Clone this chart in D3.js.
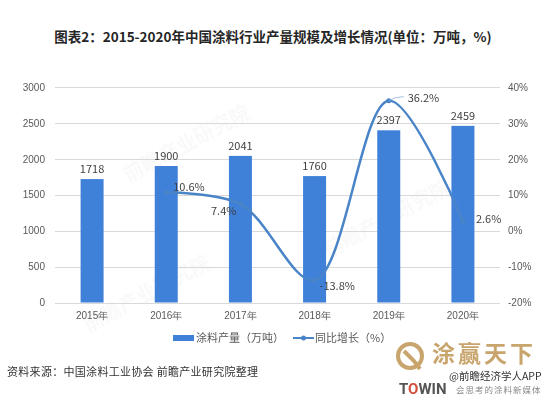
<!doctype html>
<html lang="zh">
  <head>
    <meta charset="UTF-8" />
    <title>2015-2020年中国涂料行业产量规模及增长情况</title>
    <script src="https://unpkg.com/d3@7.9.0/dist/d3.min.js"></script>
    <style>
      body {
        margin: 0;
        background: #fff;
        font-family: 'Noto Sans CJK SC', 'Noto Sans', sans-serif;
      }
      .title {
        font-size: 13.5px;
        font-weight: bold;
        fill: #262626;
        text-anchor: middle;
      }
      .tick-label {
        font-size: 10px;
        fill: #595959;
      }
      .value-label {
        font-size: 11px;
        fill: #404040;
      }
      .legend text {
        font-size: 11px;
        fill: #595959;
      }
      .source {
        font-size: 11px;
        fill: #333;
        letter-spacing: 0.3px;
      }
    </style>
  </head>
  <body>
    <svg width="549" height="397"></svg>

    <script>
      // data
      const years = ['2015年', '2016年', '2017年', '2018年', '2019年', '2020年'];
      const output = [1718, 1900, 2041, 1760, 2397, 2459];
      const growth = [null, 10.6, 7.4, -13.8, 36.2, 2.6];
      const leftTicks = [0, 500, 1000, 1500, 2000, 2500, 3000];
      const rightTicks = [-20, -10, 0, 10, 20, 30, 40];

      const barColor = '#3f80d9';
      const lineColor = '#4a84c8';

      const svg = d3.select('svg');
      const plot = { left: 55, right: 500, top: 87, bottom: 302.5 };

      const x = d3
        .scaleBand()
        .domain(years)
        .range([plot.left, plot.right])
        .paddingInner(0.69)
        .paddingOuter(0.345);

      const yL = d3
        .scaleLinear()
        .domain([0, 3000])
        .range([plot.bottom, plot.top]);

      const yR = d3
        .scaleLinear()
        .domain([-20, 40])
        .range([plot.bottom, plot.top]);

      // 標題
      svg
        .append('text')
        .attr('class', 'title')
        .attr('x', 273)
        .attr('y', 42)
        .text('图表2：2015-2020年中国涂料行业产量规模及增长情况(单位：万吨，%)');

      // 淡色水印
      const wm = svg.append('g').attr('fill', '#000').attr('opacity', 0.025);
      [
        [190, 150],
        [390, 225],
        [150, 300],
      ].forEach(([wx, wy]) => {
        wm.append('text')
          .attr('transform', `translate(${wx},${wy}) rotate(-28)`)
          .attr('text-anchor', 'middle')
          .style('font-size', '20px')
          .style('font-weight', 'bold')
          .text('前瞻产业研究院');
      });

      // 網格線
      svg
        .append('g')
        .selectAll('line')
        .data(leftTicks)
        .join('line')
        .attr('x1', plot.left)
        .attr('x2', plot.right)
        .attr('y1', (d) => Math.round(yL(d)) + 0.5)
        .attr('y2', (d) => Math.round(yL(d)) + 0.5)
        .attr('stroke', '#d9d9d9')
        .attr('stroke-width', 1);

      // 左軸
      const axL = svg
        .append('g')
        .attr('transform', `translate(${plot.left},0)`)
        .call(
          d3
            .axisLeft(yL)
            .tickValues(leftTicks)
            .tickSize(0)
            .tickPadding(10)
            .tickFormat(d3.format('d')),
        );
      axL.select('.domain').remove();
      axL.selectAll('text').attr('class', 'tick-label').attr('font-family', null).attr('font-size', null);

      // 右軸
      const axR = svg
        .append('g')
        .attr('transform', `translate(${plot.right},0)`)
        .call(
          d3
            .axisRight(yR)
            .tickValues(rightTicks)
            .tickSize(0)
            .tickPadding(8)
            .tickFormat((d) => d + '%'),
        );
      axR.select('.domain').remove();
      axR.selectAll('text').attr('class', 'tick-label').attr('font-family', null).attr('font-size', null);

      // X 軸
      const axX = svg
        .append('g')
        .attr('transform', `translate(0,${plot.bottom})`)
        .call(d3.axisBottom(x).tickSize(0).tickPadding(9));
      axX.select('.domain').remove();
      axX.selectAll('text').attr('class', 'tick-label').attr('font-family', null).attr('font-size', null);

      // 柱
      svg
        .append('g')
        .selectAll('rect')
        .data(output)
        .join('rect')
        .attr('x', (d, i) => x(years[i]))
        .attr('width', x.bandwidth())
        .attr('y', (d) => yL(d))
        .attr('height', (d) => plot.bottom - yL(d))
        .attr('fill', barColor);

      svg
        .append('g')
        .selectAll('text')
        .data(output)
        .join('text')
        .attr('class', 'value-label')
        .attr('text-anchor', 'middle')
        .attr('x', (d, i) => x(years[i]) + x.bandwidth() / 2)
        .attr('y', (d) => yL(d) - 6)
        .text((d) => d);

      // 折線
      const pts = growth
        .map((v, i) => ({ year: years[i], v }))
        .filter((d) => d.v !== null);
      const cx = (d) => x(d.year) + x.bandwidth() / 2;

      const line = d3
        .line()
        .x(cx)
        .y((d) => yR(d.v))
        .curve(d3.curveCatmullRom.alpha(0.5));

      svg
        .append('path')
        .datum(pts)
        .attr('d', line)
        .attr('fill', 'none')
        .attr('stroke', lineColor)
        .attr('stroke-width', 2.5);

      svg
        .append('g')
        .selectAll('circle')
        .data(pts)
        .join('circle')
        .attr('cx', cx)
        .attr('cy', (d) => yR(d.v))
        .attr('r', 2.5)
        .attr('fill', lineColor);

      // 標籤偏移
      const labelOffsets = [
        [7, -2, 'start'],
        [-4, 11, 'end'],
        [5, 10, 'start'],
        [19, 1, 'start'],
        [13, 2, 'start'],
      ];

      // 36.2% 引線
      const peak = pts[3];
      svg
        .append('path')
        .attr('d', `M${cx(peak)},${yR(peak.v)} q6,-4 15,-4`)
        .attr('fill', 'none')
        .attr('stroke', '#8fb0d8')
        .attr('stroke-width', 0.8);

      svg
        .append('g')
        .selectAll('text')
        .data(pts)
        .join('text')
        .attr('class', 'value-label')
        .attr('x', (d, i) => cx(d) + labelOffsets[i][0])
        .attr('y', (d, i) => yR(d.v) + labelOffsets[i][1])
        .attr('text-anchor', (d, i) => labelOffsets[i][2])
        .text((d) => d.v.toFixed(1) + '%');

      // 圖例
      const legend = svg.append('g').attr('class', 'legend');
      legend
        .append('rect')
        .attr('x', 173)
        .attr('y', 335)
        .attr('width', 21)
        .attr('height', 6)
        .attr('fill', barColor);
      legend
        .append('text')
        .attr('x', 196)
        .attr('y', 342)
        .text('涂料产量（万吨）');
      legend
        .append('line')
        .attr('x1', 293)
        .attr('x2', 314)
        .attr('y1', 338)
        .attr('y2', 338)
        .attr('stroke', lineColor)
        .attr('stroke-width', 2);
      legend
        .append('circle')
        .attr('cx', 303.5)
        .attr('cy', 338)
        .attr('r', 2.5)
        .attr('fill', lineColor);
      legend
        .append('text')
        .attr('x', 315)
        .attr('y', 342)
        .text('同比增长（%）');

      // 資料來源
      svg
        .append('text')
        .attr('class', 'source')
        .attr('x', 7)
        .attr('y', 376)
        .text('资料来源：中国涂料工业协会 前瞻产业研究院整理');

      // 右下角標誌
      const logo = svg.append('g');
      logo
        .append('circle')
        .attr('cx', 410)
        .attr('cy', 356)
        .attr('r', 12)
        .attr('fill', 'none')
        .attr('stroke', '#c9a56e')
        .attr('stroke-width', 4);
      logo
        .append('path')
        .attr('d', 'M404,351 l10,10 l6,8')
        .attr('fill', 'none')
        .attr('stroke', '#c9a56e')
        .attr('stroke-width', 4);
      logo
        .append('text')
        .attr('x', 432)
        .attr('y', 362)
        .attr('fill', '#c9a56e')
        .style('font-size', '23px')
        .style('font-weight', 'bold')
        .style('letter-spacing', '3px')
        .text('涂赢天下');
      logo
        .append('text')
        .attr('x', 449)
        .attr('y', 380)
        .attr('fill', '#333')
        .style('font-size', '10.5px')
        .text('@前瞻经济学人APP');
      const towin = logo
        .append('text')
        .attr('x', 399)
        .attr('y', 394)
        .style('font-size', '15px')
        .style('font-weight', 'bold')
        .style('font-family', 'Roboto, sans-serif');
      towin.append('tspan').attr('fill', '#555').text('T');
      towin.append('tspan').attr('fill', '#d2503c').text('O');
      towin.append('tspan').attr('fill', '#555').text('WIN');
      logo
        .append('text')
        .attr('x', 456)
        .attr('y', 393)
        .attr('fill', '#888')
        .style('font-size', '8.5px')
        .style('letter-spacing', '1px')
        .text('会思考的涂料新媒体');
    </script>
  </body>
</html>
